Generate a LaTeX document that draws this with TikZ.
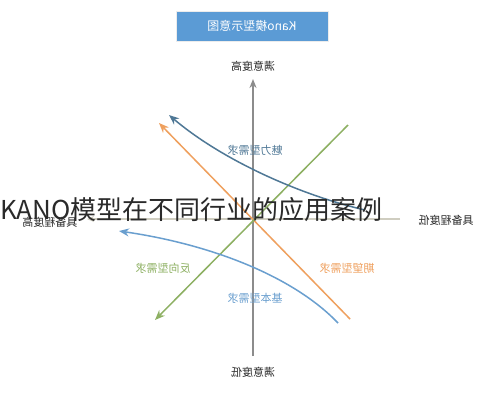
\documentclass[tikz,border=0pt]{standalone}
\usepackage{fontspec}
\usepackage{graphicx}
\setmainfont{Noto Sans CJK SC}
\usetikzlibrary{arrows.meta}
\definecolor{titleblue}{HTML}{5B9BD5}
\definecolor{axisgray}{HTML}{8C8C8C}
\definecolor{haxis}{HTML}{CFCDC0}
\definecolor{darkblue}{HTML}{4F7896}
\definecolor{lightblue}{HTML}{6A9FCF}
\definecolor{orangec}{HTML}{EFA05E}
\definecolor{greenc}{HTML}{8DB062}
\definecolor{labelgray}{HTML}{2A2A2A}
\begin{document}
\begin{tikzpicture}[x=1pt,y=-1pt,
  axislabel/.style={font=\fontsize{11}{13}\selectfont, text=labelgray, inner sep=1pt},
  curvelabel/.style={font=\fontsize{11}{13}\selectfont, inner sep=1pt},
  axisline/.style={draw=axisgray, line width=1.5pt},
  curveline/.style={line width=1.5pt, -{Stealth[length=10pt,width=8pt]}},
  titlebox/.style={fill=titleblue, draw=gray!15, line width=0.8pt, minimum width=152pt, minimum height=30pt, text=white, font=\fontsize{12}{14}\selectfont},
  overlay/.style={font=\fontsize{26}{28}\selectfont, text=labelgray, inner sep=0pt}
]
\useasboundingbox (0,0) rectangle (503,400);
\fill[white] (0,0) rectangle (503,400);

% title
\node[titlebox] (title) at (252,26) {\reflectbox{Kano模型示意图}};

% axis labels
\node[axislabel] (top) at (253,66) {\reflectbox{满意度高}};
\node[axislabel] (bottom) at (253,372) {\reflectbox{满意度低}};
\node[axislabel] (left) at (50,222) {\reflectbox{具备程度高}};
\node[axislabel] (right) at (446,220) {\reflectbox{具备程度低}};

% axes
\coordinate (vb) at (253,356);
\coordinate (vt) at (253,79);
\coordinate (hr) at (400,219);
\coordinate (hl) at (87,219);
\draw[draw=haxis, line width=1.3pt, -{Stealth[length=7pt,width=6pt]}] (hr) -- (hl);
\draw[axisline, -{Stealth[length=9pt,width=7pt]}] (vb) -- (vt);

% curves
\coordinate (o1) at (350,319);
\coordinate (o2) at (159,123);
\draw[curveline, draw=orangec, fill=orangec] (o1) -- (o2);

\coordinate (g1) at (348,125);
\coordinate (g2) at (155,320);
\draw[curveline, draw=greenc, fill=greenc] (g1) -- (g2);

\coordinate (d1) at (365,210);
\coordinate (d2) at (169,115);
\draw[curveline, draw=darkblue] (d1) .. controls (300,195) and (222,160) .. (d2);

\coordinate (b1) at (338,323);
\coordinate (b2) at (119,231);
\draw[curveline, draw=lightblue] (b1) .. controls (295,278) and (215,245) .. (b2);

% curve labels
\node[curvelabel, text=darkblue] (attr) at (255,150) {\reflectbox{魅力型需求}};
\node[curvelabel, text=greenc] (rev) at (163,268) {\reflectbox{反向型需求}};
\node[curvelabel, text=lightblue] (basic) at (255,298) {\reflectbox{基本型需求}};
\node[curvelabel, text=orangec] (expect) at (347,268) {\reflectbox{期望型需求}};

% overlaid caption
\node[overlay, anchor=base west] (cap) at (0,219) {KANO模型在不同行业的应用案例};
\end{tikzpicture}
\end{document}
